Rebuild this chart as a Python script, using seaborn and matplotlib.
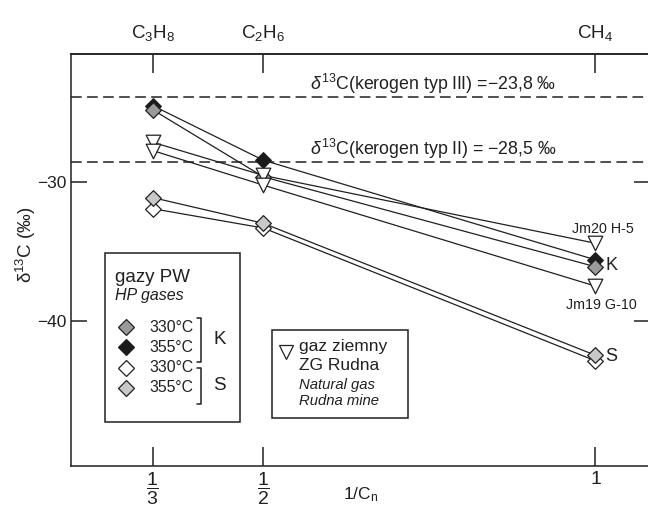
import numpy as np
import pandas as pd
import matplotlib
matplotlib.use("Agg")
import matplotlib.pyplot as plt
from matplotlib.patches import Rectangle
from matplotlib.lines import Line2D
import seaborn as sns

# ── data ──────────────────────────────────────────────────────────────────────
inv_cn = [1 / 3, 1 / 2, 1.0]                      # 1/Cn for C3H8, C2H6, CH4
top_labels = [r"C$_3$H$_8$", r"C$_2$H$_6$", r"CH$_4$"]
bottom_labels = [r"$\dfrac{1}{3}$", r"$\dfrac{1}{2}$", "1"]
y_ticks = [-30, -40]

k330 = [-24.75, -29.6, -36.1]     # HP gases, sample K, 330 C
k355 = [-24.45, -28.4, -35.6]     # HP gases, sample K, 355 C
s330 = [-31.9, -33.3, -42.9]      # HP gases, sample S, 330 C
s355 = [-31.1, -32.96, -42.5]     # HP gases, sample S, 355 C
jm20 = [-27.1, -29.5, -34.4]      # natural gas Jm20 H-5
jm19 = [-27.7, -30.2, -37.5]      # natural gas Jm19 G-10

kerogen_iii = -23.8
kerogen_ii = -28.5

series = {"K330": k330, "K355": k355, "S330": s330, "S355": s355,
          "Jm20": jm20, "Jm19": jm19}
df = pd.concat([pd.DataFrame({"series": k, "inv_cn": inv_cn, "d13c": v})
                for k, v in series.items()], ignore_index=True)

# ── style ─────────────────────────────────────────────────────────────────────
sns.set_style("ticks")
plt.rcParams["font.family"] = ["Liberation Sans", "DejaVu Sans"]
plt.rcParams["mathtext.fontset"] = "custom"
plt.rcParams["mathtext.rm"] = "Liberation Sans"
plt.rcParams["mathtext.it"] = "Liberation Sans:italic"
plt.rcParams["mathtext.bf"] = "Liberation Sans:bold"
INK = "#231f20"
GRAY = "#9a9a9a"
LIGHT = "#c8c8c8"
W, H = 648, 508

styles = {  # series -> (marker, facecolor), in drawing order
    "S330": ("D", "white"),
    "S355": ("D", LIGHT),
    "K355": ("D", "#1a1a1a"),
    "K330": ("D", GRAY),
    "Jm20": ("v", "white"),
    "Jm19": ("v", "white"),
}
MS = {"D": 8.0, "v": 10.5}


def px(x, y):
    """pixel position (top-left origin) -> figure fraction"""
    return x / W, 1 - y / H


fig = plt.figure(figsize=(W / 100, H / 100), dpi=100)
ax = fig.add_axes([0.1088, 0.0833, 0.894, 0.8104])

# connecting lines
for name in series:
    sns.lineplot(data=df[df.series == name], x="inv_cn", y="d13c", ax=ax,
                 color=INK, lw=0.9, sort=False, estimator=None, zorder=2)

# markers
for name, (mk, fc) in styles.items():
    sns.scatterplot(data=df[df.series == name], x="inv_cn", y="d13c", ax=ax,
                    marker=mk, s=MS[mk] ** 2, color=fc, edgecolor=INK,
                    linewidth=0.9, zorder=3, legend=False)

# kerogen reference lines
for val, txt in [(kerogen_iii, r"$\mathit{\delta}^{13}$C(kerogen typ III) =−23,8 ‰"),
                 (kerogen_ii, r"$\mathit{\delta}^{13}$C(kerogen typ II) = −28,5 ‰")]:
    ax.axhline(val, color=INK, lw=1.1, dashes=(7, 3.5), zorder=1)
    ax.annotate(txt, xy=(0.570, val), xytext=(0, 7), textcoords="offset pixels",
                fontsize=12.8, color=INK, ha="left", va="baseline")

# end-point labels
ax.annotate("Jm20 H-5", xy=(inv_cn[-1], jm20[-1]), xytext=(7, 14),
            textcoords="offset pixels", ha="center", va="center", fontsize=10.3, color=INK)
ax.annotate("Jm19 G-10", xy=(inv_cn[-1], jm19[-1]), xytext=(6, -19),
            textcoords="offset pixels", ha="center", va="center", fontsize=10.3, color=INK)
ax.annotate("K", xy=(inv_cn[-1], k330[-1]), xytext=(10, 1),
            textcoords="offset pixels", ha="left", va="center", fontsize=13, color=INK)
ax.annotate("S", xy=(inv_cn[-1], s355[-1]), xytext=(10, -1),
            textcoords="offset pixels", ha="left", va="center", fontsize=13, color=INK)

# axes
ax.set_xlim(0.2096, 1.0818)
ax.set_ylim(-50.48, -20.72)
ax.set_xticks(inv_cn, labels=bottom_labels)
ax.set_yticks(y_ticks)
ax.tick_params(axis="x", direction="in", length=14, width=1.1, top=False,
               labelsize=14, pad=4, colors=INK)
ax.tick_params(axis="y", direction="in", length=11.5, width=1.1, right=True,
               labelsize=12.5, pad=3, colors=INK)
for sp in ax.spines.values():
    sp.set_linewidth(1.1)
    sp.set_color(INK)

secax = ax.secondary_xaxis("top")
secax.set_xticks(inv_cn, labels=top_labels)
secax.tick_params(direction="in", length=14, width=1.1, labelsize=13.5, pad=8, colors=INK)
secax.spines["top"].set_linewidth(1.1)
secax.spines["top"].set_color(INK)

ax.set_xlabel(r"1/C$_\mathregular{n}$", fontsize=12.5, color=INK)
ax.xaxis.set_label_coords(0.5, -0.048)
ax.set_ylabel(r"δ$^{13}$C (‰)", fontsize=13.5, color=INK)
ax.yaxis.set_label_coords(-0.056, 0.536)

# ── legend box 1: HP gases ───────────────────────────────────────────────────
fig.add_artist(Rectangle(px(105, 422), 135 / W, 169 / H, transform=fig.transFigure,
                         fill=False, ec=INK, lw=1.1))
fig.text(*px(115, 282), "gazy PW", fontsize=13.5, color=INK, va="baseline")
fig.text(*px(115, 300), "HP gases", fontsize=11.5, style="italic", color=INK, va="baseline")
leg_rows = [(327, GRAY), (347, "#1a1a1a"), (367.7, "white"), (387.7, LIGHT)]
for y, fc in leg_rows:
    fig.add_artist(Line2D([px(126, y)[0]], [px(126, y)[1]], marker="D", ms=MS["D"],
                          mfc=fc, mec=INK, mew=0.9, ls="", transform=fig.transFigure))
for y, t in zip([r[0] for r in leg_rows], ["330°C", "355°C", "330°C", "355°C"]):
    fig.text(*px(149, y), t, fontsize=11.3, color=INK, va="center")
for y0, y1, lab in [(318, 362, "K"), (368, 404, "S")]:
    xs = [px(197, 0)[0], px(201, 0)[0], px(201, 0)[0], px(197, 0)[0]]
    ys = [px(0, y0)[1], px(0, y0)[1], px(0, y1)[1], px(0, y1)[1]]
    fig.add_artist(Line2D(xs, ys, color=INK, lw=1.1, transform=fig.transFigure))
    fig.text(*px(219.5, (y0 + y1) / 2), lab, fontsize=13.5, color=INK, ha="center", va="center")

# ── legend box 2: natural gas ────────────────────────────────────────────────
fig.add_artist(Rectangle(px(272, 418), 136 / W, 88 / H, transform=fig.transFigure,
                         fill=False, ec=INK, lw=1.1))
fig.add_artist(Line2D([px(285.5, 0)[0]], [px(0, 352)[1]], marker="v", ms=MS["v"],
                      mfc="white", mec=INK, mew=0.9, ls="", transform=fig.transFigure))
fig.text(*px(299, 351.5), "gaz ziemny", fontsize=12.5, color=INK, va="baseline")
fig.text(*px(299, 370.5), "ZG Rudna", fontsize=12.5, color=INK, va="baseline")
fig.text(*px(299, 388.5), "Natural gas", fontsize=10.7, style="italic", color=INK, va="baseline")
fig.text(*px(299, 405), "Rudna mine", fontsize=10.7, style="italic", color=INK, va="baseline")

fig.savefig("out.png", dpi=100, facecolor="white")
